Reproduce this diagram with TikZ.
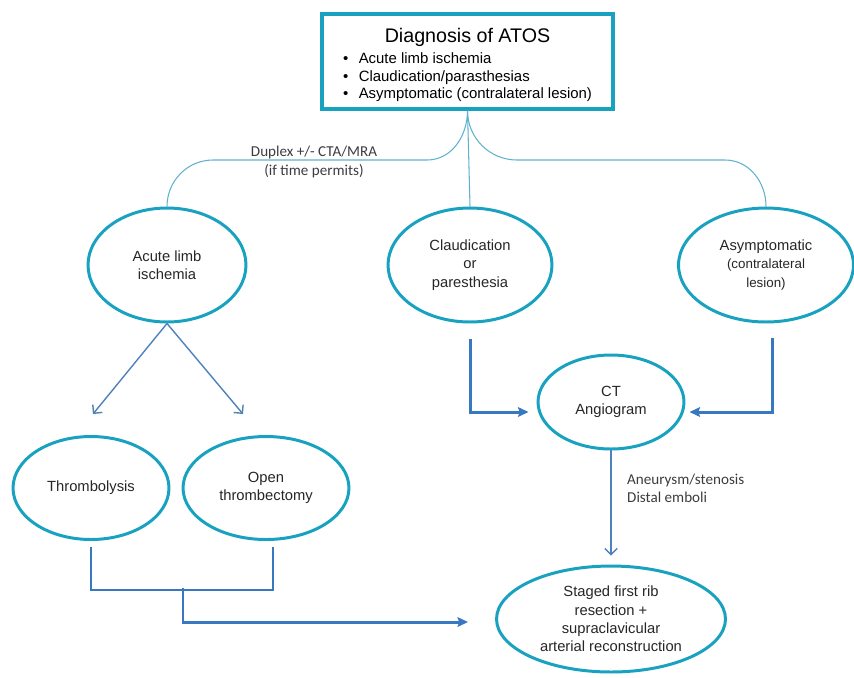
\documentclass[tikz,border=0pt]{standalone}
\usepackage{fontspec}
\setmainfont{Liberation Sans}
\newfontfamily\notefont{Carlito}
\usetikzlibrary{arrows.meta,shapes.geometric}
\definecolor{ringcol}{RGB}{24,162,192}
\definecolor{linkcol}{RGB}{95,178,204}
\definecolor{arrcol}{RGB}{79,129,189}
\definecolor{pipecol}{RGB}{55,120,192}
\definecolor{notecol}{RGB}{60,60,60}
\tikzset{
  oval/.style={ellipse,draw=ringcol,line width=1.7pt,inner sep=0pt,
    align=center,text=black!85,font=\fontsize{8.4}{10.4}\selectfont},
  topbox/.style={draw=ringcol,line width=1.8pt,inner sep=0pt,align=center,
    minimum width=5.82cm,minimum height=1.9cm},
  branch/.style={draw=linkcol,line width=0.6pt},
  thinarrow/.style={draw=arrcol,line width=0.8pt,-{Straight Barb[length=3.5pt,width=7pt]}},
  pipe/.style={draw=pipecol,line width=1.7pt},
  pipearrow/.style={pipe,-{Stealth[length=6pt,width=5.5pt,inset=1pt]}},
  note/.style={font=\notefont\fontsize{8.6}{10.2}\selectfont,text=notecol}
}
\begin{document}
\begin{tikzpicture}[x=0.02cm,y=-0.02cm]
  \useasboundingbox (0,0) rectangle (854,677);
  \node[topbox] (diag) at (467.5,61.5)
    {\rule{0pt}{13pt}{\fontsize{11.2}{12}\selectfont Diagnosis of ATOS}\\[2pt]
     \fontsize{8.5}{9.8}\selectfont
     \begin{tabular}{@{}l@{\hspace{6pt}}l@{}}
       \textbullet & Acute limb ischemia\\
       \textbullet & Claudication/parasthesias\\
       \textbullet & Asymptomatic (contralateral lesion)
     \end{tabular}};
  \node[oval,minimum width=3.16cm,minimum height=2.28cm] (acute) at (167,265) {Acute limb\\ischemia};
  \node[oval,minimum width=3.28cm,minimum height=2.28cm] (claud) at (470,265) {Claudication\\or\\paresthesia};
  \node[oval,minimum width=3.5cm,minimum height=2.28cm] (asym) at (766,265)
    {Asymptomatic\\{\fontsize{7.6}{9}\selectfont (contralateral}\\{\fontsize{7.6}{9}\selectfont lesion)}};
  \node[oval,minimum width=2.92cm,minimum height=1.88cm] (ct) at (611,402) {CT\\Angiogram};
  \node[oval,minimum width=3.12cm,minimum height=2.06cm] (thromb) at (91,488) {Thrombolysis};
  \node[oval,minimum width=3.32cm,minimum height=2.06cm] (open) at (266,488) {Open\\thrombectomy};
  \node[oval,minimum width=4.58cm,minimum height=2.12cm] (staged) at (611,619)
    {Staged first rib\\resection +\\supraclavicular\\arterial reconstruction};
  % split below the diagnosis box
  \draw[branch] (diag.south) to[out=-90,in=0] (427,160) -- (213,160) to[out=180,in=90] (acute.north);
  \draw[branch] (diag.south) to[out=-90,in=180] (517,160) -- (725,160) to[out=0,in=90] (asym.north);
  \draw[branch] (diag.south) -- (claud.north);
  \node[note,align=center] (dup) at (314,162) {Duplex +/- CTA/MRA\\[1pt](if time permits)};
  % acute limb ischemia
  \draw[thinarrow] (acute.south) -- ([shift={(2,-21)}]thromb.north);
  \draw[thinarrow] (acute.south) -- ([shift={(-23,-21)}]open.north);
  \draw[pipe] ([shift={(0,6)}]thromb.south) -- ++(0,43) -| ([shift={(7,6)}]open.south);
  \coordinate (join) at (183,588);
  \draw[pipearrow] (join) |- ([shift={(-27,3)}]staged.west);
  % to the CT angiogram
  \draw[pipearrow] ([shift={(0,16)}]claud.south) |- ([shift={(-8,10)}]ct.west);
  \draw[pipearrow] ([shift={(6,15)}]asym.south) |- ([shift={(4,10)}]ct.east);
  \draw[thinarrow] (ct.south) -- ([shift={(0,-9)}]staged.north);
  \node[note,align=left,anchor=west] (find) at (621,488) {Aneurysm/stenosis\\Distal emboli};
\end{tikzpicture}
\end{document}
